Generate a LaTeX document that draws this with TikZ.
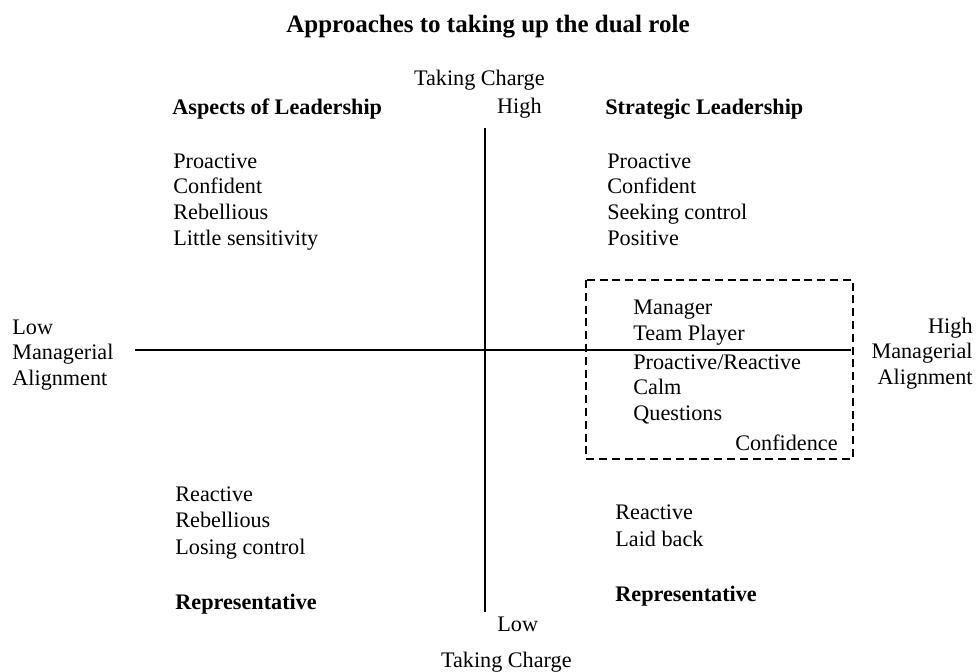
\documentclass[tikz,border=0pt]{standalone}
\usepackage{fontspec}
\setmainfont{Liberation Serif}
\begin{document}
\begin{tikzpicture}[x=.5pt,y=-.5pt,
    lbl/.style={inner sep=0pt,font=\fontsize{11.1}{13}\selectfont},
    head/.style={lbl,font=\fontsize{11.1}{13}\selectfont\bfseries},
    dbox/.style={line width=.9pt,dash pattern=on 4pt off 2.4pt}]
  \useasboundingbox (0,0) rectangle (976,671);

  \node[inner sep=0pt,anchor=base,font=\fontsize{12.5}{15}\selectfont\bfseries]
    (title) at (488,32) {Approaches to taking up the dual role};

  % the two axes
  \coordinate (top) at (485,128);
  \coordinate (bot) at (485,612);
  \coordinate (lft) at (135,350);
  \coordinate (rgt) at (851,350);
  \draw[line width=1pt] (top) -- (bot);
  \draw[line width=.8pt] (lft) -- (rgt);

  \node[lbl,anchor=base east] (tc1) at (545,85) {Taking Charge};
  \node[lbl,anchor=base east] (high1) at (542,113) {High};
  \node[lbl,anchor=base west] (low1) at (497,631) {Low};
  \node[lbl,anchor=base east] (tc2) at (572,667) {Taking Charge};

  \node[lbl,anchor=base west,align=left] (low2) at (12,334) {Low};
  \node[lbl,anchor=base west] (man1) at (12,359) {Managerial};
  \node[lbl,anchor=base west] (ali1) at (12,385) {Alignment};
  \node[lbl,anchor=base east] (high2) at (973,333) {High};
  \node[lbl,anchor=base east] (man2) at (973,358) {Managerial};
  \node[lbl,anchor=base east] (ali2) at (973,384) {Alignment};

  % top left quarter
  \node[head,anchor=base west] (asp) at (172,114) {Aspects of Leadership};
  \foreach \w [count=\i] in {Proactive,Confident,Rebellious,Little sensitivity}
    \node[lbl,anchor=base west] (al\i) at (173,{168+25.7*(\i-1)}) {\w};

  % top right quarter
  \node[head,anchor=base west] (strat) at (605,114) {Strategic Leadership};
  \foreach \w [count=\i] in {Proactive,Confident,Seeking control,Positive}
    \node[lbl,anchor=base west] (sl\i) at (607,{168+25.7*(\i-1)}) {\w};

  % dashed box across the axis
  \draw[dbox] (586,280) rectangle (853,459);
  \foreach \y/\w [count=\i] in {314/Manager,340/Team Player,369/{Proactive/Reactive},394/Calm,420/Questions}
    \node[lbl,anchor=base west] (bx\i) at (633,\y) {\w};
  \node[lbl,anchor=base east] (bx6) at (838,450) {Confidence};

  % bottom left quarter
  \foreach \w [count=\i] in {Reactive,Rebellious,Losing control}
    \node[lbl,anchor=base west] (rl\i) at (175,{501+26.5*(\i-1)}) {\w};
  \node[head,anchor=base west] (rep1) at (175,609) {Representative};

  % bottom right quarter
  \foreach \w [count=\i] in {Reactive,Laid back}
    \node[lbl,anchor=base west] (rr\i) at (615,{519+27*(\i-1)}) {\w};
  \node[head,anchor=base west] (rep2) at (615,601) {Representative};
\end{tikzpicture}
\end{document}
